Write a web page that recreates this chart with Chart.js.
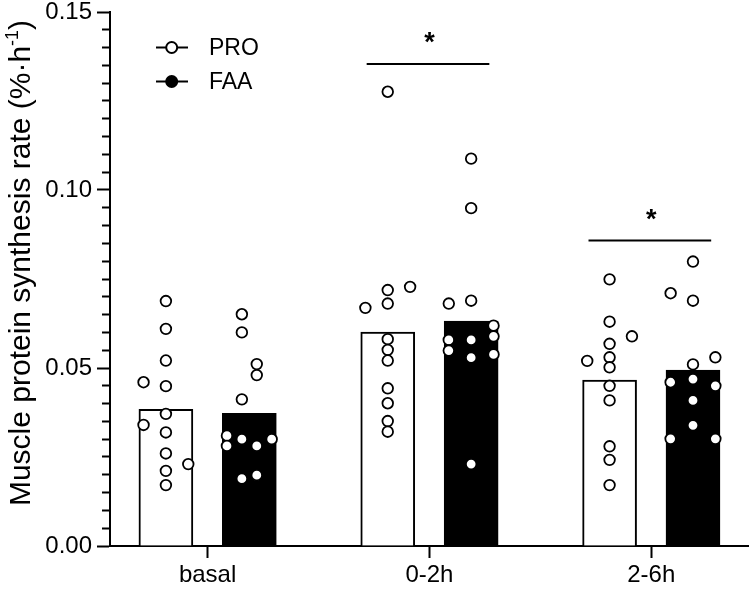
<!DOCTYPE html>
<html><head><meta charset="utf-8">
<script src="https://cdn.jsdelivr.net/npm/chart.js@4/dist/chart.umd.min.js"></script>
<style>html,body{margin:0;padding:0;background:#fff}#wrap{width:756px;height:590px}</style>
</head><body><div id="wrap"><canvas id="c" width="756" height="590"></canvas></div>
<script>
const categories = ['basal', '0-2h', '2-6h'];
const seriesNames = ['PRO', 'FAA'];
const yTicks = [0, 0.05, 0.10, 0.15];
const yMinorStep = 0.005;
const yTitle = 'Muscle protein synthesis rate (%·h';
const yTitleSup = '-1';

// bar heights (group means)
const proMean = [0.0384, 0.0601, 0.0466];
const faaMean = [0.0373, 0.0632, 0.0494];

// individual values per category and their beeswarm column (-3..3)
const proBasal    = [0.0688,0.0610,0.0521,0.0460,0.0449,0.0371,0.0340,0.0319,0.0260,0.0230,0.0211,0.0171];
const proBasalCol = [0,0,0,-3,0,0,-3,0,0,3,0,0];
const faaBasal    = [0.0651,0.0600,0.0511,0.0480,0.0412,0.0310,0.0300,0.0300,0.0281,0.0281,0.0189,0.0199];
const faaBasalCol = [-1,-1,1,1,-1,-3,-1,3,-3,1,-1,1];
const pro02    = [0.1276,0.0728,0.0719,0.0681,0.0669,0.0581,0.0551,0.0521,0.0443,0.0401,0.0351,0.0321];
const pro02Col = [0,3,0,0,-3,0,0,0,0,0,0,0];
const faa02    = [0.1088,0.0949,0.0689,0.0681,0.0619,0.0589,0.0579,0.0579,0.0549,0.0538,0.0529,0.0230];
const faa02Col = [0,0,0,-3,3,3,-3,0,-3,3,0,0];
const pro26    = [0.0749,0.0630,0.0589,0.0568,0.0530,0.0520,0.0502,0.0450,0.0409,0.0280,0.0242,0.0171];
const pro26Col = [0,0,3,0,0,-3,0,0,0,0,0,0];
const faa26    = [0.0799,0.0710,0.0689,0.0530,0.0510,0.0469,0.0460,0.0450,0.0409,0.0339,0.0301,0.0301];
const faa26Col = [0,-3,0,3,0,0,-3,3,0,0,-3,3];

// significance bars (value per category, null = none)
const sigLevel = [null, 0.1354, 0.0858];
const sigLabel = [null, '*', '*'];

// ---- layout constants ----
const GROUP_OFF = [-0.188, 0.188];
const COL_STEP = 0.0336;
const FONT = 'Liberation Sans, Arial, sans-serif';

const proPts = [[proBasal, proBasalCol],[pro02, pro02Col],[pro26, pro26Col]];
const faaPts = [[faaBasal, faaBasalCol],[faa02, faa02Col],[faa26, faa26Col]];

function pts(groups, g){
  const out = [];
  groups.forEach(([vals, cols], i) => {
    vals.forEach((v, k) => out.push({x: i + GROUP_OFF[g] + cols[k]*COL_STEP, y: v}));
  });
  return out;
}

const extras = {
  id: 'extras',
  afterDraw(chart){
    const ctx = chart.ctx, xs = chart.scales.x, ys = chart.scales.y;
    const left = chart.chartArea.left;
    ctx.save();
    ctx.strokeStyle = '#000';
    // significance
    sigLevel.forEach((lv, i) => {
      if (lv === null) return;
      const y = ys.getPixelForValue(lv);
      ctx.beginPath(); ctx.lineWidth = 2;
      ctx.moveTo(xs.getPixelForValue(i-0.283), y); ctx.lineTo(xs.getPixelForValue(i+0.27), y); ctx.stroke();
      ctx.fillStyle = '#000'; ctx.font = 'bold 27px ' + FONT;
      ctx.textAlign = 'center'; ctx.textBaseline = 'middle';
      ctx.fillText(sigLabel[i], xs.getPixelForValue(i), y - 20);
    });
    // legend
    const fills = ['#fff', '#000'];
    const ly = [47.5, 81.5];
    ctx.font = '23px ' + FONT; ctx.textAlign = 'left'; ctx.textBaseline = 'middle';
    seriesNames.forEach((n, j) => {
      ctx.lineWidth = 2; ctx.strokeStyle = '#000';
      ctx.beginPath(); ctx.moveTo(left+46, ly[j]); ctx.lineTo(left+78, ly[j]); ctx.stroke();
      ctx.beginPath(); ctx.arc(left+61.7, ly[j], 5.5, 0, Math.PI*2);
      ctx.fillStyle = fills[j]; ctx.fill(); ctx.stroke();
      ctx.fillStyle = '#000'; ctx.fillText(n, left+99, ly[j]+1);
    });
    // y title
    ctx.translate(22, 263); ctx.rotate(-Math.PI/2);
    const big = '30px ' + FONT, small = '18px ' + FONT;
    ctx.textBaseline = 'middle';
    ctx.font = big; const w1 = ctx.measureText(yTitle).width;
    ctx.font = small; const w2 = ctx.measureText(yTitleSup).width;
    ctx.font = big; const w3 = ctx.measureText(')').width;
    let x0 = -(w1+w2+w3)/2;
    ctx.textAlign = 'left';
    ctx.fillText(yTitle, x0, 0);
    ctx.font = small; ctx.fillText(yTitleSup, x0+w1, -9);
    ctx.font = big; ctx.fillText(')', x0+w1+w2, 0);
    ctx.restore();
  }
};

const dotStyle = {pointRadius: 5.3, pointBorderWidth: 1.8, pointBackgroundColor: '#fff', pointBorderColor: '#000', pointHoverRadius: 5.3};

new Chart(document.getElementById('c'), {
  type: 'bar',
  data: { datasets: [
    {type:'bar', label: seriesNames[0], data: proMean.map((v,i)=>({x:i+GROUP_OFF[0], y:v})), backgroundColor:'#fff', borderColor:'#000', borderWidth:2, barThickness:54, grouped:false, order:3},
    {type:'bar', label: seriesNames[1], data: faaMean.map((v,i)=>({x:i+GROUP_OFF[1], y:v})), backgroundColor:'#000', borderColor:'#000', borderWidth:2, barThickness:54, grouped:false, order:3},
    Object.assign({type:'scatter', label: seriesNames[0]+' pts', data: pts(proPts, 0), order:1}, dotStyle),
    Object.assign({type:'scatter', label: seriesNames[1]+' pts', data: pts(faaPts, 1), order:1}, dotStyle)
  ]},
  options: {
    responsive: false, animation: false,
    layout: {padding: {top: 12, right: 3, left: 0, bottom: 0}},
    plugins: {legend: {display: false}, tooltip: {enabled: false}},
    scales: {
      x: {type:'linear', min:-0.44, max:2.44, offset:false,
          afterBuildTicks: s => { s.ticks = categories.map((c,i)=>({value:i})); },
          ticks: {callback: v => categories[v], font:{family:FONT, size:24}, color:'#000', padding:3, autoSkip:false, maxRotation:0},
          grid: {drawOnChartArea:false, offset:false, tickLength:12, color:'#000', tickWidth:2},
          border: {color:'#000', width:2},
          afterFit: s => { s.height = 44; s.paddingLeft = 0; s.paddingRight = 0; }},
      y: {min:0, max:0.15, position:'left', weight:1,
          afterBuildTicks: s => { s.ticks = yTicks.map(v=>({value:v})); },
          ticks: {callback: v => v.toFixed(2), font:{family:FONT, size:24}, color:'#000', padding:5},
          grid: {drawOnChartArea:false, tickLength:13, color:'#000', tickWidth:2},
          border: {color:'#000', width:2},
          afterFit: s => { s.width = 110; s.paddingTop = 0; s.paddingBottom = 0; }},
      yMinor: {min:0, max:0.15, position:'left', weight:0,
          afterBuildTicks: s => {
            const t = [];
            for (let k = 1; k * yMinorStep < 0.15; k++) { if (k % 10) t.push({value: k * yMinorStep}); }
            s.ticks = t;
          },
          ticks: {display:false},
          grid: {drawOnChartArea:false, tickLength:8, color:'#000', tickWidth:2},
          border: {display:false},
          afterFit: s => { s.width = 0; s.paddingTop = 0; s.paddingBottom = 0; }}
    }
  },
  plugins: [extras]
});
</script></body></html>
